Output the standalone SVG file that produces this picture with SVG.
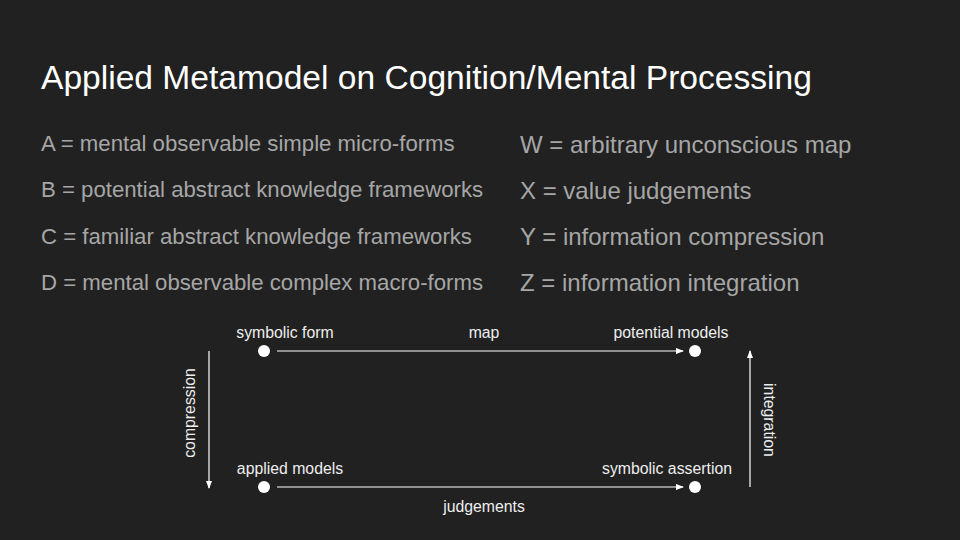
<svg xmlns="http://www.w3.org/2000/svg" width="960" height="540" viewBox="0 0 960 540">
<defs>
<marker id="ah" markerWidth="8" markerHeight="8" refX="7" refY="4" orient="auto" markerUnits="userSpaceOnUse">
<path d="M0,1 L8,4 L0,7 Z" fill="#ffffff"/>
</marker>
<style>
text{font-family:"Liberation Sans",Arial,sans-serif}
.title{font-size:33.6px;fill:#ffffff}
.legL{font-size:22.2px;fill:#a6a6a6}
.legR{font-size:24px;fill:#a6a6a6}
.lbl{font-size:15.8px;fill:#eeeeee}
.dot{fill:#ffffff}
.conn{stroke:#ffffff;stroke-width:1.2;fill:none;marker-end:url(#ah)}
</style>
</defs>
<rect width="960" height="540" fill="#212121"/>
<text class="title" x="41" y="89">Applied Metamodel on Cognition/Mental Processing</text>
<g id="legend">
<text class="legL" x="41" y="151">A = mental observable simple micro-forms</text>
<text class="legL" x="41" y="197">B = potential abstract knowledge frameworks</text>
<text class="legL" x="41" y="244">C = familiar abstract knowledge frameworks</text>
<text class="legL" x="41" y="290">D = mental observable complex macro-forms</text>
<text class="legR" x="520" y="153">W = arbitrary unconscious map</text>
<text class="legR" x="520" y="199">X = value judgements</text>
<text class="legR" x="520" y="245">Y = information compression</text>
<text class="legR" x="520" y="291">Z = information integration</text>
</g>
<g id="connectors">
<line class="conn" x1="277" y1="351" x2="683" y2="351"/>
<line class="conn" x1="277" y1="487" x2="683" y2="487"/>
<line class="conn" x1="209" y1="351" x2="209" y2="488"/>
<line class="conn" x1="750" y1="487" x2="750" y2="351"/>
<text class="lbl" x="484" y="338" text-anchor="middle">map</text>
<text class="lbl" x="484" y="512" text-anchor="middle">judgements</text>
<text class="lbl" transform="translate(195,413) rotate(-90)" text-anchor="middle">compression</text>
<text class="lbl" transform="translate(764,420) rotate(90)" text-anchor="middle">integration</text>
</g>
<g id="node-symbolic-form">
<circle class="dot" cx="264" cy="351" r="6"/>
<text class="lbl" x="285" y="338" text-anchor="middle">symbolic form</text>
</g>
<g id="node-potential-models">
<circle class="dot" cx="695" cy="351" r="6"/>
<text class="lbl" x="671" y="338" text-anchor="middle">potential models</text>
</g>
<g id="node-applied-models">
<circle class="dot" cx="264" cy="487" r="6"/>
<text class="lbl" x="290" y="474" text-anchor="middle">applied models</text>
</g>
<g id="node-symbolic-assertion">
<circle class="dot" cx="695" cy="487" r="6"/>
<text class="lbl" x="667" y="474" text-anchor="middle">symbolic assertion</text>
</g>
</svg>
